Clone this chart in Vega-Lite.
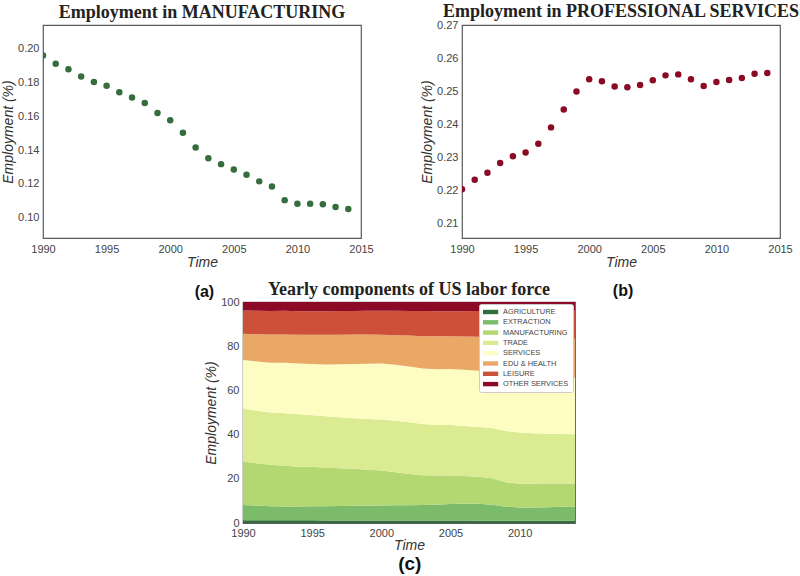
{
  "$schema": "https://vega.github.io/schema/vega-lite/v6.json",
  "background": "white",
  "padding": {"left": 0, "top": 2, "right": 0, "bottom": 0},
  "config": {
    "view": {"stroke": "#5a5a5a", "strokeWidth": 1.2},
    "font": "Liberation Sans",
    "axis": {"grid": false, "ticks": false, "domain": false, "labelFont": "Liberation Sans", "labelFontSize": 11, "labelColor": "#444", "labelPadding": 4, "labelFlush": false, "labelOverlap": false, "titleFont": "Liberation Sans", "titleFontStyle": "italic", "titleFontWeight": "normal", "titleFontSize": 14, "titleColor": "#333", "titlePadding": 2},
    "title": {"font": "Liberation Serif", "fontSize": 18, "fontWeight": "bold", "color": "#222", "offset": 3}
  },
  "datasets": {
    "manufacturing": [
      {"year": 1990, "share": 0.196}, {"year": 1991, "share": 0.1911}, {"year": 1992, "share": 0.1878}, {"year": 1993, "share": 0.1835}, {"year": 1994, "share": 0.1803},
      {"year": 1995, "share": 0.1781}, {"year": 1996, "share": 0.1742}, {"year": 1997, "share": 0.1711}, {"year": 1998, "share": 0.1679}, {"year": 1999, "share": 0.162},
      {"year": 2000, "share": 0.1577}, {"year": 2001, "share": 0.1502}, {"year": 2002, "share": 0.1415}, {"year": 2003, "share": 0.1352}, {"year": 2004, "share": 0.1317},
      {"year": 2005, "share": 0.1285}, {"year": 2006, "share": 0.1254}, {"year": 2007, "share": 0.1215}, {"year": 2008, "share": 0.1185}, {"year": 2009, "share": 0.1104},
      {"year": 2010, "share": 0.1083}, {"year": 2011, "share": 0.1083}, {"year": 2012, "share": 0.1079}, {"year": 2013, "share": 0.1063}, {"year": 2014, "share": 0.1051}
    ],
    "professional": [
      {"year": 1990, "share": 0.2204}, {"year": 1991, "share": 0.2233}, {"year": 1992, "share": 0.2254}, {"year": 1993, "share": 0.2284}, {"year": 1994, "share": 0.2304},
      {"year": 1995, "share": 0.2316}, {"year": 1996, "share": 0.2342}, {"year": 1997, "share": 0.2392}, {"year": 1998, "share": 0.2446}, {"year": 1999, "share": 0.2501},
      {"year": 2000, "share": 0.2538}, {"year": 2001, "share": 0.2532}, {"year": 2002, "share": 0.2516}, {"year": 2003, "share": 0.2514}, {"year": 2004, "share": 0.2521},
      {"year": 2005, "share": 0.2535}, {"year": 2006, "share": 0.255}, {"year": 2007, "share": 0.2553}, {"year": 2008, "share": 0.2538}, {"year": 2009, "share": 0.2518},
      {"year": 2010, "share": 0.253}, {"year": 2011, "share": 0.2536}, {"year": 2012, "share": 0.2542}, {"year": 2013, "share": 0.2555}, {"year": 2014, "share": 0.2557}
    ],
    "labor": [
      {"year": 1990, "sector": "AGRICULTURE", "rank": 1, "share": 1.2}, {"year": 1990, "sector": "EXTRACTION", "rank": 2, "share": 7.0}, {"year": 1990, "sector": "MANUFACTURING", "rank": 3, "share": 19.6}, {"year": 1990, "sector": "TRADE", "rank": 4, "share": 23.9}, {"year": 1990, "sector": "SERVICES", "rank": 5, "share": 22.0}, {"year": 1990, "sector": "EDU & HEALTH", "rank": 6, "share": 11.9}, {"year": 1990, "sector": "LEISURE", "rank": 7, "share": 10.5}, {"year": 1990, "sector": "OTHER SERVICES", "rank": 8, "share": 3.9},
      {"year": 1991, "sector": "AGRICULTURE", "rank": 1, "share": 1.2}, {"year": 1991, "sector": "EXTRACTION", "rank": 2, "share": 6.7}, {"year": 1991, "sector": "MANUFACTURING", "rank": 3, "share": 19.1}, {"year": 1991, "sector": "TRADE", "rank": 4, "share": 23.8}, {"year": 1991, "sector": "SERVICES", "rank": 5, "share": 22.3}, {"year": 1991, "sector": "EDU & HEALTH", "rank": 6, "share": 12.3}, {"year": 1991, "sector": "LEISURE", "rank": 7, "share": 10.6}, {"year": 1991, "sector": "OTHER SERVICES", "rank": 8, "share": 4.0},
      {"year": 1992, "sector": "AGRICULTURE", "rank": 1, "share": 1.2}, {"year": 1992, "sector": "EXTRACTION", "rank": 2, "share": 6.4}, {"year": 1992, "sector": "MANUFACTURING", "rank": 3, "share": 18.8}, {"year": 1992, "sector": "TRADE", "rank": 4, "share": 23.6}, {"year": 1992, "sector": "SERVICES", "rank": 5, "share": 22.5}, {"year": 1992, "sector": "EDU & HEALTH", "rank": 6, "share": 12.8}, {"year": 1992, "sector": "LEISURE", "rank": 7, "share": 10.6}, {"year": 1992, "sector": "OTHER SERVICES", "rank": 8, "share": 4.1},
      {"year": 1993, "sector": "AGRICULTURE", "rank": 1, "share": 1.2}, {"year": 1993, "sector": "EXTRACTION", "rank": 2, "share": 6.3}, {"year": 1993, "sector": "MANUFACTURING", "rank": 3, "share": 18.4}, {"year": 1993, "sector": "TRADE", "rank": 4, "share": 23.8}, {"year": 1993, "sector": "SERVICES", "rank": 5, "share": 22.8}, {"year": 1993, "sector": "EDU & HEALTH", "rank": 6, "share": 12.8}, {"year": 1993, "sector": "LEISURE", "rank": 7, "share": 10.7}, {"year": 1993, "sector": "OTHER SERVICES", "rank": 8, "share": 4.0},
      {"year": 1994, "sector": "AGRICULTURE", "rank": 1, "share": 1.2}, {"year": 1994, "sector": "EXTRACTION", "rank": 2, "share": 6.3}, {"year": 1994, "sector": "MANUFACTURING", "rank": 3, "share": 18.0}, {"year": 1994, "sector": "TRADE", "rank": 4, "share": 23.7}, {"year": 1994, "sector": "SERVICES", "rank": 5, "share": 23.0}, {"year": 1994, "sector": "EDU & HEALTH", "rank": 6, "share": 13.0}, {"year": 1994, "sector": "LEISURE", "rank": 7, "share": 10.6}, {"year": 1994, "sector": "OTHER SERVICES", "rank": 8, "share": 4.2},
      {"year": 1995, "sector": "AGRICULTURE", "rank": 1, "share": 1.2}, {"year": 1995, "sector": "EXTRACTION", "rank": 2, "share": 6.4}, {"year": 1995, "sector": "MANUFACTURING", "rank": 3, "share": 17.8}, {"year": 1995, "sector": "TRADE", "rank": 4, "share": 23.4}, {"year": 1995, "sector": "SERVICES", "rank": 5, "share": 23.2}, {"year": 1995, "sector": "EDU & HEALTH", "rank": 6, "share": 13.2}, {"year": 1995, "sector": "LEISURE", "rank": 7, "share": 10.6}, {"year": 1995, "sector": "OTHER SERVICES", "rank": 8, "share": 4.2},
      {"year": 1996, "sector": "AGRICULTURE", "rank": 1, "share": 1.1}, {"year": 1996, "sector": "EXTRACTION", "rank": 2, "share": 6.5}, {"year": 1996, "sector": "MANUFACTURING", "rank": 3, "share": 17.4}, {"year": 1996, "sector": "TRADE", "rank": 4, "share": 23.3}, {"year": 1996, "sector": "SERVICES", "rank": 5, "share": 23.4}, {"year": 1996, "sector": "EDU & HEALTH", "rank": 6, "share": 13.5}, {"year": 1996, "sector": "LEISURE", "rank": 7, "share": 10.6}, {"year": 1996, "sector": "OTHER SERVICES", "rank": 8, "share": 4.2},
      {"year": 1997, "sector": "AGRICULTURE", "rank": 1, "share": 1.1}, {"year": 1997, "sector": "EXTRACTION", "rank": 2, "share": 6.6}, {"year": 1997, "sector": "MANUFACTURING", "rank": 3, "share": 17.1}, {"year": 1997, "sector": "TRADE", "rank": 4, "share": 23.1}, {"year": 1997, "sector": "SERVICES", "rank": 5, "share": 23.9}, {"year": 1997, "sector": "EDU & HEALTH", "rank": 6, "share": 13.4}, {"year": 1997, "sector": "LEISURE", "rank": 7, "share": 10.7}, {"year": 1997, "sector": "OTHER SERVICES", "rank": 8, "share": 4.1},
      {"year": 1998, "sector": "AGRICULTURE", "rank": 1, "share": 1.1}, {"year": 1998, "sector": "EXTRACTION", "rank": 2, "share": 6.7}, {"year": 1998, "sector": "MANUFACTURING", "rank": 3, "share": 16.8}, {"year": 1998, "sector": "TRADE", "rank": 4, "share": 22.8}, {"year": 1998, "sector": "SERVICES", "rank": 5, "share": 24.5}, {"year": 1998, "sector": "EDU & HEALTH", "rank": 6, "share": 13.4}, {"year": 1998, "sector": "LEISURE", "rank": 7, "share": 10.6}, {"year": 1998, "sector": "OTHER SERVICES", "rank": 8, "share": 4.1},
      {"year": 1999, "sector": "AGRICULTURE", "rank": 1, "share": 1.1}, {"year": 1999, "sector": "EXTRACTION", "rank": 2, "share": 6.8}, {"year": 1999, "sector": "MANUFACTURING", "rank": 3, "share": 16.2}, {"year": 1999, "sector": "TRADE", "rank": 4, "share": 23.0}, {"year": 1999, "sector": "SERVICES", "rank": 5, "share": 25.0}, {"year": 1999, "sector": "EDU & HEALTH", "rank": 6, "share": 13.2}, {"year": 1999, "sector": "LEISURE", "rank": 7, "share": 10.7}, {"year": 1999, "sector": "OTHER SERVICES", "rank": 8, "share": 4.0},
      {"year": 2000, "sector": "AGRICULTURE", "rank": 1, "share": 1.1}, {"year": 2000, "sector": "EXTRACTION", "rank": 2, "share": 6.8}, {"year": 2000, "sector": "MANUFACTURING", "rank": 3, "share": 15.8}, {"year": 2000, "sector": "TRADE", "rank": 4, "share": 23.1}, {"year": 2000, "sector": "SERVICES", "rank": 5, "share": 25.4}, {"year": 2000, "sector": "EDU & HEALTH", "rank": 6, "share": 13.0}, {"year": 2000, "sector": "LEISURE", "rank": 7, "share": 10.8}, {"year": 2000, "sector": "OTHER SERVICES", "rank": 8, "share": 4.0},
      {"year": 2001, "sector": "AGRICULTURE", "rank": 1, "share": 1.1}, {"year": 2001, "sector": "EXTRACTION", "rank": 2, "share": 6.9}, {"year": 2001, "sector": "MANUFACTURING", "rank": 3, "share": 15.0}, {"year": 2001, "sector": "TRADE", "rank": 4, "share": 23.3}, {"year": 2001, "sector": "SERVICES", "rank": 5, "share": 25.3}, {"year": 2001, "sector": "EDU & HEALTH", "rank": 6, "share": 13.4}, {"year": 2001, "sector": "LEISURE", "rank": 7, "share": 11.0}, {"year": 2001, "sector": "OTHER SERVICES", "rank": 8, "share": 4.0},
      {"year": 2002, "sector": "AGRICULTURE", "rank": 1, "share": 1.1}, {"year": 2002, "sector": "EXTRACTION", "rank": 2, "share": 6.9}, {"year": 2002, "sector": "MANUFACTURING", "rank": 3, "share": 14.2}, {"year": 2002, "sector": "TRADE", "rank": 4, "share": 23.4}, {"year": 2002, "sector": "SERVICES", "rank": 5, "share": 25.2}, {"year": 2002, "sector": "EDU & HEALTH", "rank": 6, "share": 14.0}, {"year": 2002, "sector": "LEISURE", "rank": 7, "share": 11.1}, {"year": 2002, "sector": "OTHER SERVICES", "rank": 8, "share": 4.1},
      {"year": 2003, "sector": "AGRICULTURE", "rank": 1, "share": 1.1}, {"year": 2003, "sector": "EXTRACTION", "rank": 2, "share": 7.0}, {"year": 2003, "sector": "MANUFACTURING", "rank": 3, "share": 13.5}, {"year": 2003, "sector": "TRADE", "rank": 4, "share": 23.2}, {"year": 2003, "sector": "SERVICES", "rank": 5, "share": 25.1}, {"year": 2003, "sector": "EDU & HEALTH", "rank": 6, "share": 14.6}, {"year": 2003, "sector": "LEISURE", "rank": 7, "share": 11.4}, {"year": 2003, "sector": "OTHER SERVICES", "rank": 8, "share": 4.1},
      {"year": 2004, "sector": "AGRICULTURE", "rank": 1, "share": 1.1}, {"year": 2004, "sector": "EXTRACTION", "rank": 2, "share": 7.2}, {"year": 2004, "sector": "MANUFACTURING", "rank": 3, "share": 13.2}, {"year": 2004, "sector": "TRADE", "rank": 4, "share": 22.9}, {"year": 2004, "sector": "SERVICES", "rank": 5, "share": 25.2}, {"year": 2004, "sector": "EDU & HEALTH", "rank": 6, "share": 14.9}, {"year": 2004, "sector": "LEISURE", "rank": 7, "share": 11.3}, {"year": 2004, "sector": "OTHER SERVICES", "rank": 8, "share": 4.2},
      {"year": 2005, "sector": "AGRICULTURE", "rank": 1, "share": 1.1}, {"year": 2005, "sector": "EXTRACTION", "rank": 2, "share": 7.5}, {"year": 2005, "sector": "MANUFACTURING", "rank": 3, "share": 12.9}, {"year": 2005, "sector": "TRADE", "rank": 4, "share": 22.8}, {"year": 2005, "sector": "SERVICES", "rank": 5, "share": 25.4}, {"year": 2005, "sector": "EDU & HEALTH", "rank": 6, "share": 14.8}, {"year": 2005, "sector": "LEISURE", "rank": 7, "share": 11.3}, {"year": 2005, "sector": "OTHER SERVICES", "rank": 8, "share": 4.2},
      {"year": 2006, "sector": "AGRICULTURE", "rank": 1, "share": 1.1}, {"year": 2006, "sector": "EXTRACTION", "rank": 2, "share": 7.7}, {"year": 2006, "sector": "MANUFACTURING", "rank": 3, "share": 12.5}, {"year": 2006, "sector": "TRADE", "rank": 4, "share": 22.6}, {"year": 2006, "sector": "SERVICES", "rank": 5, "share": 25.5}, {"year": 2006, "sector": "EDU & HEALTH", "rank": 6, "share": 15.0}, {"year": 2006, "sector": "LEISURE", "rank": 7, "share": 11.4}, {"year": 2006, "sector": "OTHER SERVICES", "rank": 8, "share": 4.2},
      {"year": 2007, "sector": "AGRICULTURE", "rank": 1, "share": 1.0}, {"year": 2007, "sector": "EXTRACTION", "rank": 2, "share": 7.7}, {"year": 2007, "sector": "MANUFACTURING", "rank": 3, "share": 12.2}, {"year": 2007, "sector": "TRADE", "rank": 4, "share": 22.5}, {"year": 2007, "sector": "SERVICES", "rank": 5, "share": 25.5}, {"year": 2007, "sector": "EDU & HEALTH", "rank": 6, "share": 15.4}, {"year": 2007, "sector": "LEISURE", "rank": 7, "share": 11.6}, {"year": 2007, "sector": "OTHER SERVICES", "rank": 8, "share": 4.1},
      {"year": 2008, "sector": "AGRICULTURE", "rank": 1, "share": 1.0}, {"year": 2008, "sector": "EXTRACTION", "rank": 2, "share": 7.3}, {"year": 2008, "sector": "MANUFACTURING", "rank": 3, "share": 11.9}, {"year": 2008, "sector": "TRADE", "rank": 4, "share": 22.8}, {"year": 2008, "sector": "SERVICES", "rank": 5, "share": 25.4}, {"year": 2008, "sector": "EDU & HEALTH", "rank": 6, "share": 15.8}, {"year": 2008, "sector": "LEISURE", "rank": 7, "share": 11.7}, {"year": 2008, "sector": "OTHER SERVICES", "rank": 8, "share": 4.1},
      {"year": 2009, "sector": "AGRICULTURE", "rank": 1, "share": 1.0}, {"year": 2009, "sector": "EXTRACTION", "rank": 2, "share": 6.4}, {"year": 2009, "sector": "MANUFACTURING", "rank": 3, "share": 11.0}, {"year": 2009, "sector": "TRADE", "rank": 4, "share": 23.2}, {"year": 2009, "sector": "SERVICES", "rank": 5, "share": 25.2}, {"year": 2009, "sector": "EDU & HEALTH", "rank": 6, "share": 17.2}, {"year": 2009, "sector": "LEISURE", "rank": 7, "share": 12.0}, {"year": 2009, "sector": "OTHER SERVICES", "rank": 8, "share": 4.0},
      {"year": 2010, "sector": "AGRICULTURE", "rank": 1, "share": 1.0}, {"year": 2010, "sector": "EXTRACTION", "rank": 2, "share": 6.0}, {"year": 2010, "sector": "MANUFACTURING", "rank": 3, "share": 10.8}, {"year": 2010, "sector": "TRADE", "rank": 4, "share": 23.1}, {"year": 2010, "sector": "SERVICES", "rank": 5, "share": 25.3}, {"year": 2010, "sector": "EDU & HEALTH", "rank": 6, "share": 17.6}, {"year": 2010, "sector": "LEISURE", "rank": 7, "share": 12.2}, {"year": 2010, "sector": "OTHER SERVICES", "rank": 8, "share": 4.0},
      {"year": 2011, "sector": "AGRICULTURE", "rank": 1, "share": 1.0}, {"year": 2011, "sector": "EXTRACTION", "rank": 2, "share": 6.0}, {"year": 2011, "sector": "MANUFACTURING", "rank": 3, "share": 10.8}, {"year": 2011, "sector": "TRADE", "rank": 4, "share": 22.8}, {"year": 2011, "sector": "SERVICES", "rank": 5, "share": 25.4}, {"year": 2011, "sector": "EDU & HEALTH", "rank": 6, "share": 17.7}, {"year": 2011, "sector": "LEISURE", "rank": 7, "share": 12.4}, {"year": 2011, "sector": "OTHER SERVICES", "rank": 8, "share": 3.9},
      {"year": 2012, "sector": "AGRICULTURE", "rank": 1, "share": 1.0}, {"year": 2012, "sector": "EXTRACTION", "rank": 2, "share": 6.1}, {"year": 2012, "sector": "MANUFACTURING", "rank": 3, "share": 10.8}, {"year": 2012, "sector": "TRADE", "rank": 4, "share": 22.5}, {"year": 2012, "sector": "SERVICES", "rank": 5, "share": 25.4}, {"year": 2012, "sector": "EDU & HEALTH", "rank": 6, "share": 17.8}, {"year": 2012, "sector": "LEISURE", "rank": 7, "share": 12.5}, {"year": 2012, "sector": "OTHER SERVICES", "rank": 8, "share": 3.9},
      {"year": 2013, "sector": "AGRICULTURE", "rank": 1, "share": 1.0}, {"year": 2013, "sector": "EXTRACTION", "rank": 2, "share": 6.3}, {"year": 2013, "sector": "MANUFACTURING", "rank": 3, "share": 10.6}, {"year": 2013, "sector": "TRADE", "rank": 4, "share": 22.4}, {"year": 2013, "sector": "SERVICES", "rank": 5, "share": 25.6}, {"year": 2013, "sector": "EDU & HEALTH", "rank": 6, "share": 17.6}, {"year": 2013, "sector": "LEISURE", "rank": 7, "share": 12.7}, {"year": 2013, "sector": "OTHER SERVICES", "rank": 8, "share": 3.8},
      {"year": 2014, "sector": "AGRICULTURE", "rank": 1, "share": 1.0}, {"year": 2014, "sector": "EXTRACTION", "rank": 2, "share": 6.4}, {"year": 2014, "sector": "MANUFACTURING", "rank": 3, "share": 10.5}, {"year": 2014, "sector": "TRADE", "rank": 4, "share": 22.3}, {"year": 2014, "sector": "SERVICES", "rank": 5, "share": 25.6}, {"year": 2014, "sector": "EDU & HEALTH", "rank": 6, "share": 17.7}, {"year": 2014, "sector": "LEISURE", "rank": 7, "share": 12.7}, {"year": 2014, "sector": "OTHER SERVICES", "rank": 8, "share": 3.8}
    ]
  },
  "spacing": -21,
  "resolve": {"scale": {"color": "independent"}, "legend": {"color": "independent"}},
  "vconcat": [
    {
      "spacing": 45,
      "hconcat": [
        {
          "title": {"text": "(a)", "orient": "bottom", "anchor": "middle", "dx": 17, "font": "Liberation Sans", "fontSize": 16, "fontWeight": "bold", "color": "#111", "offset": 14},
          "vconcat": [
            {
              "title": "Employment in MANUFACTURING",
              "width": 318, "height": 213,
              "data": {"name": "manufacturing"},
              "mark": {"type": "circle", "size": 42, "opacity": 1, "color": "#356d3d", "clip": true},
              "encoding": {
                "x": {"field": "year", "type": "quantitative", "scale": {"domain": [1990, 2015], "nice": false, "zero": false}, "axis": {"values": [1990, 1995, 2000, 2005, 2010, 2015], "format": "d", "title": "Time", "labelPadding": 5, "titlePadding": 1}},
                "y": {"field": "share", "type": "quantitative", "scale": {"domain": [0.088, 0.214], "nice": false, "zero": false}, "axis": {"values": [0.1, 0.12, 0.14, 0.16, 0.18, 0.2], "format": ".2f", "title": "Employment (%)"}}
              }
            }
          ]
        },
        {
          "title": {"text": "(b)", "orient": "bottom", "anchor": "middle", "dx": 13, "font": "Liberation Sans", "fontSize": 16, "fontWeight": "bold", "color": "#111", "offset": 13},
          "vconcat": [
            {
              "title": {"text": "Employment in PROFESSIONAL SERVICES", "offset": -1},
              "width": 318, "height": 213,
              "data": {"name": "professional"},
              "mark": {"type": "circle", "size": 42, "opacity": 1, "color": "#8b0b25", "clip": true},
              "encoding": {
                "x": {"field": "year", "type": "quantitative", "scale": {"domain": [1990, 2015], "nice": false, "zero": false}, "axis": {"values": [1990, 1995, 2000, 2005, 2010, 2015], "format": "d", "title": "Time", "labelPadding": 5, "titlePadding": 1}},
                "y": {"field": "share", "type": "quantitative", "scale": {"domain": [0.2056, 0.2703], "nice": false, "zero": false}, "axis": {"values": [0.21, 0.22, 0.23, 0.24, 0.25, 0.26, 0.27], "format": ".2f", "title": "Employment (%)"}}
              }
            }
          ]
        }
      ]
    },
    {
      "spacing": 0,
      "resolve": {"scale": {"color": "independent"}, "legend": {"color": "independent"}},
      "hconcat": [
        {
          "width": 161, "height": 1,
          "view": {"stroke": null},
          "data": {"values": []},
          "mark": "point"
        },
        {
          "title": {"text": "(c)", "orient": "bottom", "anchor": "middle", "dx": 20, "font": "Liberation Sans", "fontSize": 19, "fontWeight": "bold", "color": "#111", "offset": 2},
          "resolve": {"scale": {"color": "independent"}, "legend": {"color": "independent"}},
          "vconcat": [
            {
              "title": {"text": "Yearly components of US labor force", "offset": -2.5},
              "width": 332, "height": 221,
              "data": {"name": "labor"},
              "mark": {"type": "area", "clip": true},
              "encoding": {
                "x": {"field": "year", "type": "quantitative", "scale": {"domain": [1990, 2014], "nice": false, "zero": false}, "axis": {"values": [1990, 1995, 2000, 2005, 2010], "format": "d", "title": "Time", "labelPadding": 4, "titlePadding": 0}},
                "y": {"field": "share", "type": "quantitative", "stack": "zero", "scale": {"domain": [0, 100], "nice": false}, "axis": {"values": [0, 20, 40, 60, 80, 100], "title": "Employment (%)", "labelPadding": 4, "titlePadding": 2}},
                "order": {"field": "rank", "type": "quantitative", "sort": "ascending"},
                "color": {
                  "field": "sector", "type": "nominal",
                  "sort": ["AGRICULTURE", "EXTRACTION", "MANUFACTURING", "TRADE", "SERVICES", "EDU & HEALTH", "LEISURE", "OTHER SERVICES"],
                  "scale": {"domain": ["AGRICULTURE", "EXTRACTION", "MANUFACTURING", "TRADE", "SERVICES", "EDU & HEALTH", "LEISURE", "OTHER SERVICES"], "range": ["#336d3d", "#7bbb6a", "#b3d771", "#dbeb91", "#fdfdc3", "#e9a866", "#cd5139", "#8d0a26"]},
                  "legend": {"orient": "top-right", "offset": 2, "title": null, "fillColor": "white", "strokeColor": "#cccccc", "padding": 4, "cornerRadius": 2, "labelFont": "Liberation Sans", "labelFontSize": 7.4, "labelColor": "#444", "symbolType": "M-1,-0.55H2.8V0.55H-1Z", "symbolSize": 64, "symbolStrokeWidth": 0, "symbolOpacity": 1, "rowPadding": 2.3, "labelOffset": 12}
                }
              }
            }
          ]
        }
      ]
    }
  ]
}
